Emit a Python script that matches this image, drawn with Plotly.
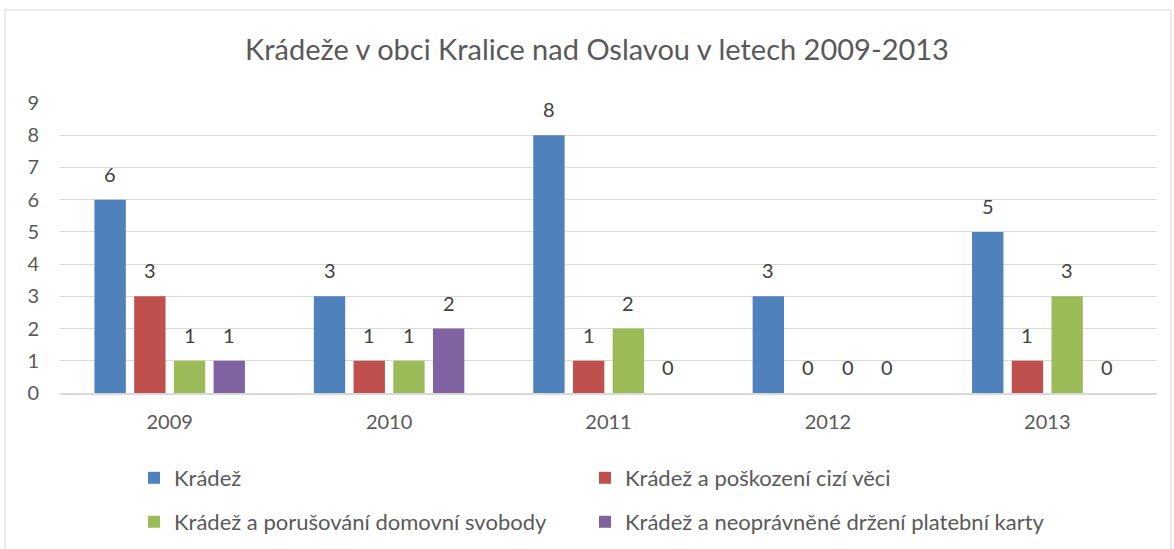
import plotly.graph_objects as go

years = ["2009", "2010", "2011", "2012", "2013"]
series_names = [
    "Krádež",
    "Krádež a poškození cizí věci",
    "Krádež a porušování domovní svobody",
    "Krádež a neoprávněné držení platební karty",
]
kradez = [6, 3, 8, 3, 5]
poskozeni = [3, 1, 1, 0, 1]
porusovani = [1, 1, 2, 0, 3]
karta = [1, 2, 0, 0, 0]
colors = ["#4F81BD", "#C0504D", "#9BBB59", "#8064A2"]
title_text = "Krádeže v obci Kralice nad Oslavou v letech 2009-2013"

W, H = 1174, 549
ML, MR, MT, MB = 60, 17, 103, 156
BARGAP, BARGROUPGAP = 0.276, 0.21
FONT = "Lato"

all_series = [kradez, poskozeni, porusovani, karta]
fig = go.Figure()
for i, (name, vals, col) in enumerate(zip(series_names, all_series, colors)):
    fig.add_trace(go.Bar(
        x=years, y=vals, name=name, marker=dict(color=col, line=dict(width=0)),
        legend="legend" if i < 2 else "legend2",
        legendwidth=406 if i % 2 == 0 else 480,
        hoverinfo="skip",
    ))

# data labels (category axis: position given by category index)
plot_w = W - ML - MR
cat_w = plot_w / len(years)
slot = cat_w * (1 - BARGAP) / len(all_series)
annotations = []
for i, vals in enumerate(all_series):
    off = (i - (len(all_series) - 1) / 2) * slot
    for j, v in enumerate(vals):
        annotations.append(dict(
            x=j, y=v, xref="x", yref="y", text=str(v), showarrow=False,
            xshift=off, yshift=26, yanchor="middle", xanchor="center",
            font=dict(family=FONT, size=20, color="#404040"),
        ))

plot_h = H - MT - MB
def px2x(px):
    return (px - ML) / plot_w
def py2y(py):
    return (H - MB - py) / plot_h

fig.add_shape(type="rect", xref="paper", yref="paper",
              x0=px2x(5), x1=px2x(1171), y0=py2y(560), y1=py2y(10),
              line=dict(color="#D9D9D9", width=1), layer="below")

legend_common = dict(orientation="h", x=134 / W, xref="container", xanchor="left",
                     yref="container", yanchor="middle",
                     entrywidthmode="pixels", itemwidth=30,
                     font=dict(family=FONT, size=22, color="#595959"),
                     bgcolor="rgba(0,0,0,0)")

fig.update_layout(
    width=W, height=H,
    margin=dict(l=ML, r=MR, t=MT, b=MB),
    paper_bgcolor="white", plot_bgcolor="white",
    barmode="group", bargap=BARGAP, bargroupgap=BARGROUPGAP,
    title=dict(text=title_text, x=597 / W, xref="container", xanchor="center",
               y=1 - 50 / H, yref="container", yanchor="middle",
               font=dict(family=FONT, size=29, color="#595959")),
    font=dict(family=FONT, color="#595959"),
    xaxis=dict(type="category", range=[-0.5, len(years) - 0.5], showgrid=False,
               showline=True, linecolor="#D9D9D9",
               linewidth=1.5, ticks="", tickfont=dict(size=20, color="#595959"),
               ticklabelstandoff=10),
    yaxis=dict(range=[0, 9], dtick=1, showgrid=True, gridcolor="#D9D9D9", gridwidth=1,
               zeroline=False, showline=False, ticks="",
               tickfont=dict(size=20, color="#595959"), ticklabelstandoff=20),
    legend=dict(legend_common, y=1 - 478 / H),
    legend2=dict(legend_common, y=1 - 522 / H),
    annotations=annotations,
    showlegend=True,
)

fig.write_html(
    "out.html",
    config={"displayModeBar": False},
    post_script="document.body.style.margin='0';document.body.style.overflow='hidden';",
)
